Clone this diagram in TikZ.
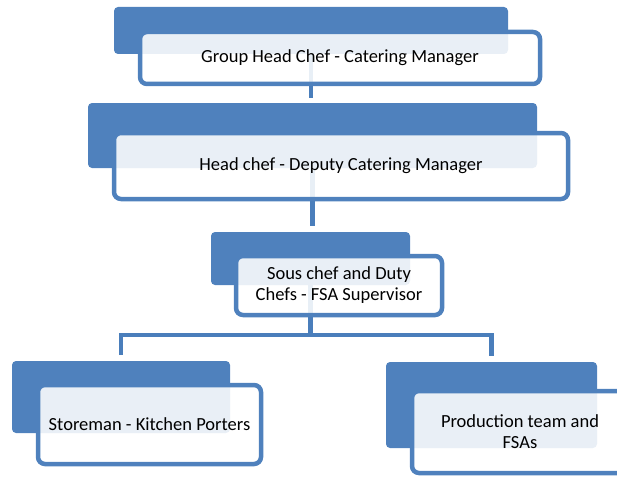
\documentclass[tikz,border=0pt]{standalone}
\usepackage{fontspec}
\setmainfont{Carlito}
\usetikzlibrary{calc}
\definecolor{smblue}{HTML}{4F81BD}
\definecolor{linkblue}{HTML}{4A7EBB}
\tikzset{
  back/.style={fill=smblue, rounded corners=4pt, inner sep=0pt, outer sep=0pt, anchor=north west},
  card/.style={draw=smblue, line width=4.5pt, fill=white, fill opacity=0.88, text opacity=1,
    rounded corners=7pt, inner sep=0pt, outer sep=0pt, anchor=north west, align=center,
    font=\fontsize{18.5}{21}\selectfont, text=black},
  link/.style={draw=linkblue, line width=4.5pt}
}
\begin{document}
\begin{tikzpicture}[x=1pt,y=-1pt]
  \useasboundingbox (0,0) rectangle (617,476);
  \clip (0,0) rectangle (617,476);
  % blue tabs behind each card
  \node[back, minimum width=394pt, minimum height=47pt] (b1) at (114,7) {};
  \node[back, minimum width=449pt, minimum height=65pt] (b2) at (88,103) {};
  \node[back, minimum width=199pt, minimum height=53pt] (b3) at (211,232) {};
  \node[back, minimum width=218pt, minimum height=72pt] (b4) at (12,361) {};
  \node[back, minimum width=211pt, minimum height=86pt] (b5) at (386,362) {};
  % connector end points just above each child tab
  \coordinate (j2) at ($(b2.north)+(0,-5)$);
  \coordinate (j3) at ($(b3.north)+(0,-6)$);
  \coordinate (j4) at ($(b4.north)+(0,-6)$);
  \coordinate (j5) at ($(b5.north)+(0,-6)$);
  \coordinate (fork) at ($(b3.south)+(0,50)$);
  % connectors
  \draw[link] (b1.south) -- (b1.south |- j2);
  \draw[link] (b2.south) -- (b2.south |- j3);
  \draw[link] (b3.south) -- (fork);
  \draw[link] (b4.north |- j4) |- (fork) -| (b5.north |- j5);
  % cards
  \node[card, minimum width=400pt, minimum height=52pt] (c1) at (140,32) {Group Head Chef - Catering Manager};
  \node[card, minimum width=454pt, minimum height=66pt] (c2) at (114,133) {Head chef - Deputy Catering Manager};
  \node[card, minimum width=206pt, minimum height=59pt] (c3) at (236,256) {Sous chef and Duty\\Chefs - FSA Supervisor};
  \node[card, minimum width=223pt, minimum height=79pt] (c4) at (38,385) {Storeman - Kitchen Porters};
  \node[card, minimum width=216pt, minimum height=82pt] (c5) at (412,391) {Production team and\\FSAs};
\end{tikzpicture}
\end{document}
